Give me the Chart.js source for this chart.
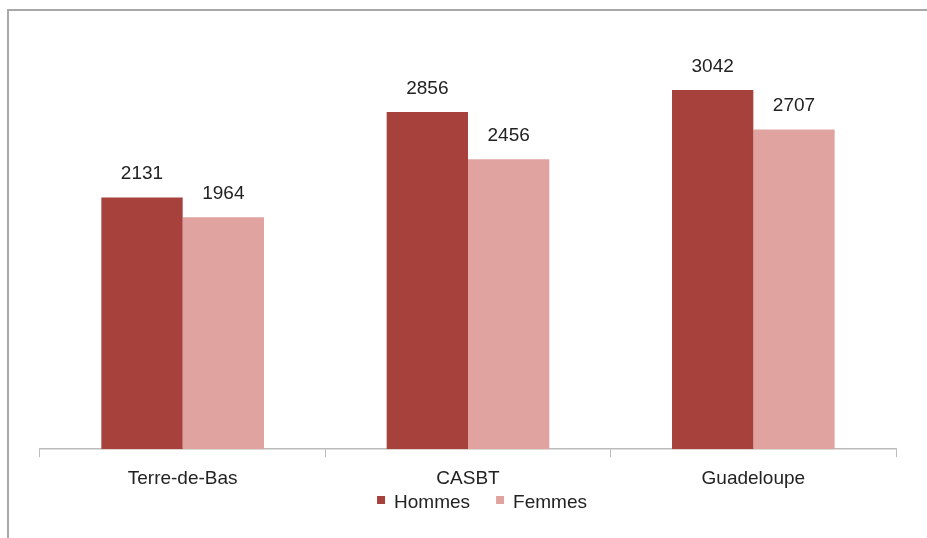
<!DOCTYPE html>
<html>
<head>
<meta charset="utf-8">
<script src="https://cdn.jsdelivr.net/npm/chart.js@4.4.1/dist/chart.umd.min.js"></script>
<style>
  html, body { margin: 0; padding: 0; background: #fff; overflow: hidden; }
  #cadre { position: absolute; left: 7px; top: 9px; width: 960px; height: 560px;
           border-left: 2px solid #a8a8a8; border-top: 2px solid #a8a8a8; }
  #wrap { position: absolute; left: 0; top: 0; width: 927px; height: 538px; }
</style>
</head>
<body>
<div id="cadre"></div>
<div id="wrap"><canvas id="myChart"></canvas></div>
<script>
//Données
let categories = ['Terre-de-Bas', 'CASBT', 'Guadeloupe'];
let hommes = [2131, 2856, 3042];
let femmes = [1964, 2456, 2707];

const police = '"Liberation Sans", Arial, sans-serif';

//Plugin pour écrire les valeurs au-dessus des barres
const valeursPlugin = {
    id: 'valeurs',
    afterDatasetsDraw(chart) {
        const ctx = chart.ctx;
        ctx.save();
        ctx.font = '19px ' + police;
        ctx.fillStyle = '#222';
        ctx.textAlign = 'center';
        ctx.textBaseline = 'bottom';
        chart.data.datasets.forEach(function (ds, i) {
            chart.getDatasetMeta(i).data.forEach(function (bar, j) {
                ctx.fillText(ds.data[j], bar.x, bar.y - 14);
            });
        });
        ctx.restore();
    }
};

//Légende dessinée à la main (serrée sous les catégories)
const legendePlugin = {
    id: 'legende',
    afterDraw(chart) {
        const ctx = chart.ctx;
        ctx.save();
        ctx.font = '19px ' + police;
        ctx.textBaseline = 'middle';
        const box = 8, gapTexte = 9, gapItem = 26, y = 503;
        const items = chart.data.datasets.map(function (ds) {
            return { label: ds.label, color: ds.backgroundColor, w: ctx.measureText(ds.label).width };
        });
        let total = 0;
        items.forEach(function (it, k) {
            total += box + gapTexte + it.w + (k > 0 ? gapItem : 0);
        });
        let x = 482 - total / 2;
        items.forEach(function (it) {
            ctx.fillStyle = it.color;
            ctx.fillRect(x, y - 7, box, box);
            ctx.fillStyle = '#222';
            ctx.fillText(it.label, x + box + gapTexte, y);
            x += box + gapTexte + it.w + gapItem;
        });
        ctx.restore();
    }
};

const ctx = document.getElementById('myChart').getContext('2d');
const myChart = new Chart(ctx, {
    type: 'bar',
    data: {
        labels: categories,
        datasets: [
            { label: 'Hommes', data: hommes, backgroundColor: '#a6413b' },
            { label: 'Femmes', data: femmes, backgroundColor: '#e0a39f' }
        ]
    },
    options: {
        responsive: true,
        maintainAspectRatio: false,
        animation: false,
        layout: { padding: { left: 40, right: 31, top: 36, bottom: 38 } },
        datasets: { bar: { categoryPercentage: 0.57, barPercentage: 1 } },
        plugins: {
            tooltip: { enabled: false },
            legend: { display: false }
        },
        scales: {
            x: {
                grid: { drawOnChartArea: false, drawTicks: true, tickLength: 8, color: '#bbb' },
                border: { color: '#bbb', width: 1.5 },
                ticks: {
                    color: '#222',
                    padding: 10,
                    font: { family: police, size: 19 }
                }
            },
            y: {
                display: false,
                min: 0,
                max: 3500
            }
        }
    },
    plugins: [valeursPlugin, legendePlugin]
});
</script>
</body>
</html>
